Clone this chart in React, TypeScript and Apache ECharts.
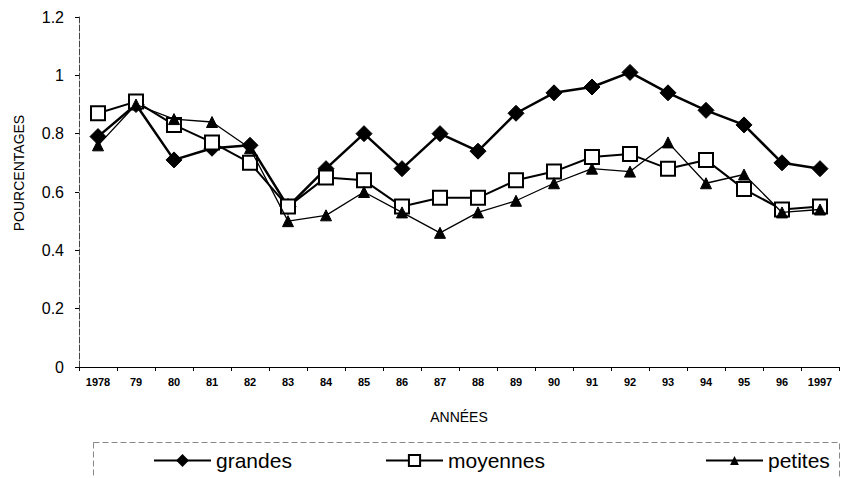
import React, { useEffect, useRef } from "react";
import * as echarts from "echarts";

const years = ["1978", "79", "80", "81", "82", "83", "84", "85", "86", "87", "88", "89", "90", "91", "92", "93", "94", "95", "96", "1997"];
const grandes = [0.79, 0.9, 0.71, 0.75, 0.76, 0.55, 0.68, 0.8, 0.68, 0.8, 0.74, 0.87, 0.94, 0.96, 1.01, 0.94, 0.88, 0.83, 0.7, 0.68];
const moyennes = [0.87, 0.91, 0.83, 0.77, 0.7, 0.55, 0.65, 0.64, 0.55, 0.58, 0.58, 0.64, 0.67, 0.72, 0.73, 0.68, 0.71, 0.61, 0.54, 0.55];
const petites = [0.76, 0.9, 0.85, 0.84, 0.75, 0.5, 0.52, 0.6, 0.53, 0.46, 0.53, 0.57, 0.63, 0.68, 0.67, 0.77, 0.63, 0.66, 0.53, 0.54];

const FONT = "'Liberation Sans', Arial, sans-serif";

export default function App() {
  const ref = useRef<HTMLDivElement>(null);
  useEffect(() => {
    if (!ref.current) return;
    const chart = echarts.init(ref.current, null, { renderer: "svg" });
    const legendText = { fontSize: 21, color: "#000", fontFamily: FONT };
    chart.setOption({
      animation: false,
      backgroundColor: "#fff",
      grid: { left: 79, right: 2, top: 17, height: 350 },
      xAxis: {
        type: "category",
        data: years,
        boundaryGap: true,
        name: "ANNÉES",
        nameLocation: "middle",
        nameGap: 43,
        nameTextStyle: { fontSize: 14, color: "#000", fontFamily: FONT },
        axisLine: { lineStyle: { color: "#000", width: 1 } },
        axisTick: { show: true, interval: 0, length: 4, lineStyle: { color: "#000" } },
        axisLabel: { interval: 0, fontSize: 11, fontWeight: "bold", color: "#000", fontFamily: FONT, margin: 9 },
        splitLine: { show: false },
      },
      yAxis: {
        type: "value",
        min: 0,
        max: 1.2,
        interval: 0.2,
        axisLine: { show: true, lineStyle: { color: "#444", width: 1, type: [6, 2] } },
        axisTick: { show: true, length: 4, lineStyle: { color: "#000" } },
        axisLabel: { fontSize: 16, color: "#000", fontFamily: FONT, margin: 15 },
        splitLine: { show: false },
      },
      legend: [
        { data: ["grandes"], left: 153, top: 450, itemWidth: 57, itemHeight: 16, itemGap: 4, textStyle: legendText, padding: 0 },
        { data: ["moyennes"], left: 385, top: 450, itemWidth: 57, itemHeight: 14, textStyle: legendText, padding: 0 },
        { data: ["petites"], left: 705, top: 450, itemWidth: 57, itemHeight: 11, textStyle: legendText, padding: 0 },
      ],
      graphic: [
        {
          type: "rect",
          shape: { x: 93.5, y: 442.5, width: 746, height: 40 },
          style: { fill: "none", stroke: "#888", lineWidth: 1, lineDash: [6, 3] },
          silent: true,
        },
        {
          type: "text",
          x: 19,
          y: 173,
          rotation: Math.PI / 2,
          style: { text: "POURCENTAGES", fontSize: 14, fill: "#000", fontFamily: FONT, align: "center", verticalAlign: "middle" },
        },
      ],
      series: [
        {
          name: "grandes",
          type: "line",
          data: grandes,
          symbol: "diamond",
          symbolSize: 16,
          lineStyle: { color: "#000", width: 2.5 },
          itemStyle: { color: "#000", borderColor: "#000" },
          z: 3,
        },
        {
          name: "moyennes",
          type: "line",
          data: moyennes,
          symbol: "rect",
          symbolSize: 14,
          lineStyle: { color: "#000", width: 2 },
          itemStyle: { color: "#fff", borderColor: "#000", borderWidth: 2 },
          z: 4,
        },
        {
          name: "petites",
          type: "line",
          data: petites,
          symbol: "triangle",
          symbolSize: 11,
          lineStyle: { color: "#000", width: 1.3 },
          itemStyle: { color: "#000", borderColor: "#000" },
          z: 5,
        },
      ],
    });
    return () => chart.dispose();
  }, []);
  return <div ref={ref} style={{ width: 841, height: 478, position: "absolute", left: 0, top: 0 }} />;
}
